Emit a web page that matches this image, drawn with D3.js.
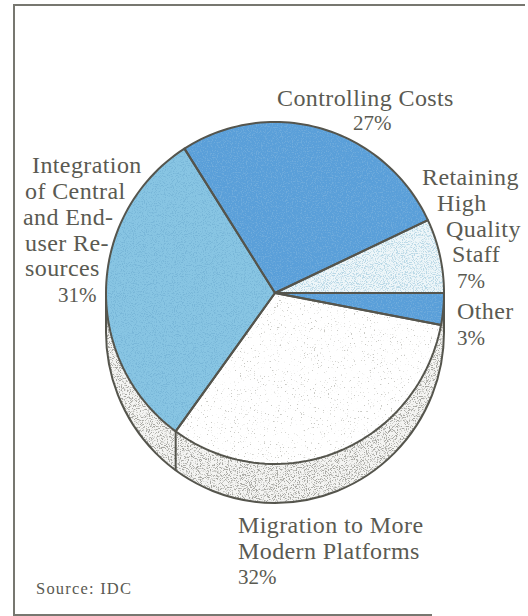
<!DOCTYPE html>
<html>
<head>
<meta charset="utf-8">
<script src="https://cdn.jsdelivr.net/npm/d3@7/dist/d3.min.js"></script>
<style>
html,body{margin:0;padding:0;background:#fff}
svg{display:block}
text{font-family:"Liberation Serif",serif;fill:#5a5a52}
</style>
</head>
<body>
<svg id="chart" width="528" height="616"></svg>
<script>
// Budget priorities, clockwise from the upper-left slice boundary.
const categories = ["Controlling Costs", "Retaining High Quality Staff", "Other", "Migration to More Modern Platforms", "Integration of Central and End-user Resources"];
const shares = [27, 7, 3, 32, 31];
const labelLines = [
  ["Controlling Costs", "27%"],
  ["Retaining", "High", "Quality", "Staff", "7%"],
  ["Other", "3%"],
  ["Migration to More", "Modern Platforms", "32%"],
  ["Integration", "of Central", "and End-", "user Re-", "sources", "31%"]
];
const sourceNote = "Source: IDC";

// Left edge and baseline of every label line, in the order of labelLines.
const labelSpots = [
  [[277, 106], [353, 130]],
  [[422, 185], [437, 211], [446, 237], [452, 262], [457, 288]],
  [[457, 319], [457, 345]],
  [[238, 533], [238, 559], [238, 584]],
  [[32, 173], [25, 199], [23, 225], [25, 251], [25, 276], [58, 302]]
];
const sliceFills = ["url(#solidBlue)", "url(#paleDots)", "url(#solidBlue)", "url(#faintDots)", "url(#skyBlue)"];

const svg = d3.select("#chart");
const cx = 275, cy = 293, rx = 169, ry = 171, depth = 39;
const startDeg = -32.4;
const rad = d => d * Math.PI / 180;
const lineColor = "#55554d";

// Grain textures: softened, thresholded noise laid over a flat base colour.
const defs = svg.append("defs");
function inkGrain(id, base, ink, freq, slope, cut, seed) {
  const p = defs.append("pattern").attr("id", id).attr("patternUnits", "userSpaceOnUse")
    .attr("x", -cx).attr("y", -cy).attr("width", 528).attr("height", 616);
  const f = defs.append("filter").attr("id", id + "F").attr("x", 0).attr("y", 0).attr("width", 1).attr("height", 1)
    .attr("color-interpolation-filters", "sRGB");
  f.append("feTurbulence").attr("type", "fractalNoise").attr("baseFrequency", freq).attr("numOctaves", 2).attr("seed", seed);
  const c = d3.color(ink);
  f.append("feColorMatrix").attr("values",
    `0 0 0 0 ${c.r / 255} 0 0 0 0 ${c.g / 255} 0 0 0 0 ${c.b / 255} ${slope} 0 0 0 ${cut}`);
  f.append("feGaussianBlur").attr("stdDeviation", 0.35);
  p.append("rect").attr("width", 528).attr("height", 616).attr("fill", base);
  p.append("rect").attr("width", 528).attr("height", 616).attr("filter", `url(#${id}F)`);
}
inkGrain("solidBlue", "#5a9fd9", "#6fabdc", 0.8, 5, -2.5, 3);
inkGrain("skyBlue", "#88c5e3", "#78b6d8", 0.9, 5, -2.5, 5);
inkGrain("paleDots", "#eef6f9", "#b9d8e6", 0.9, 6, -2.9, 7);
inkGrain("faintDots", "#ffffff", "#c9c9c4", 0.7, 9, -6.0, 9);
inkGrain("wallDots", "#f4f4f2", "#a8a8a3", 0.9, 7, -3.6, 11);

// Cylinder wall: the disc repeated lower down, joined by a band behind the top face.
const wall = svg.append("g");
wall.append("rect")
  .attr("x", cx - rx).attr("y", cy).attr("width", 2 * rx).attr("height", depth)
  .attr("fill", "url(#wallDots)");
wall.append("ellipse")
  .attr("cx", cx).attr("cy", cy + depth).attr("rx", rx).attr("ry", ry)
  .attr("fill", "url(#wallDots)").attr("stroke", lineColor).attr("stroke-width", 2);
wall.selectAll("line").data([cx - rx, cx + rx]).join("line")
  .attr("x1", d => d).attr("x2", d => d)
  .attr("y1", cy).attr("y2", cy + depth)
  .attr("stroke", lineColor).attr("stroke-width", 2);

// Top face slices: pie layout angles traced around the slightly tall ellipse.
const pie = d3.pie().sort(null).startAngle(rad(startDeg)).endAngle(rad(startDeg + 360));
const arcs = pie(shares);
const faceGroup = svg.append("g").attr("transform", `translate(${cx},${cy})`);
const outline = d3.line();
const ellipticalSlice = d => {
  const pts = d3.range(0, 61).map(k => {
    const a = d.startAngle + (d.endAngle - d.startAngle) * k / 60;
    return [rx * Math.sin(a), -ry * Math.cos(a)];
  });
  return outline([[0, 0], ...pts]) + "Z";
};
faceGroup.selectAll("path.slice").data(arcs).join("path")
  .attr("class", "slice")
  .attr("d", ellipticalSlice)
  .attr("fill", (d, i) => sliceFills[i]);
faceGroup.selectAll("path.rim").data(arcs).join("path")
  .attr("class", "rim")
  .attr("d", ellipticalSlice)
  .attr("fill", "none")
  .attr("stroke", lineColor).attr("stroke-width", 2).attr("stroke-linejoin", "round");

// Wall seam under the Migration / Integration boundary.
const seam = arcs[3].endAngle;
const sx = cx + rx * Math.sin(seam), sy = cy - ry * Math.cos(seam);
svg.append("line").attr("x1", sx).attr("x2", sx).attr("y1", sy).attr("y2", sy + depth)
  .attr("stroke", lineColor).attr("stroke-width", 2);

// Category labels: words slightly larger than the percentage figures.
labelLines.forEach((lines, i) => lines.forEach((txt, j) => {
  const isShare = txt.endsWith("%");
  svg.append("text").text(txt)
    .attr("x", labelSpots[i][j][0]).attr("y", labelSpots[i][j][1])
    .attr("font-size", isShare ? 21 : 24)
    .attr("letter-spacing", isShare ? 0 : 0.4);
}));

svg.append("text").text(sourceNote).attr("x", 36).attr("y", 594)
  .attr("font-size", 16.5).attr("letter-spacing", 1.2);

// Page frame, open on the right.
svg.append("path").attr("d", "M525,5H14V615H432").attr("fill", "none")
  .attr("stroke", "#777770").attr("stroke-width", 2);
</script>
</body>
</html>
